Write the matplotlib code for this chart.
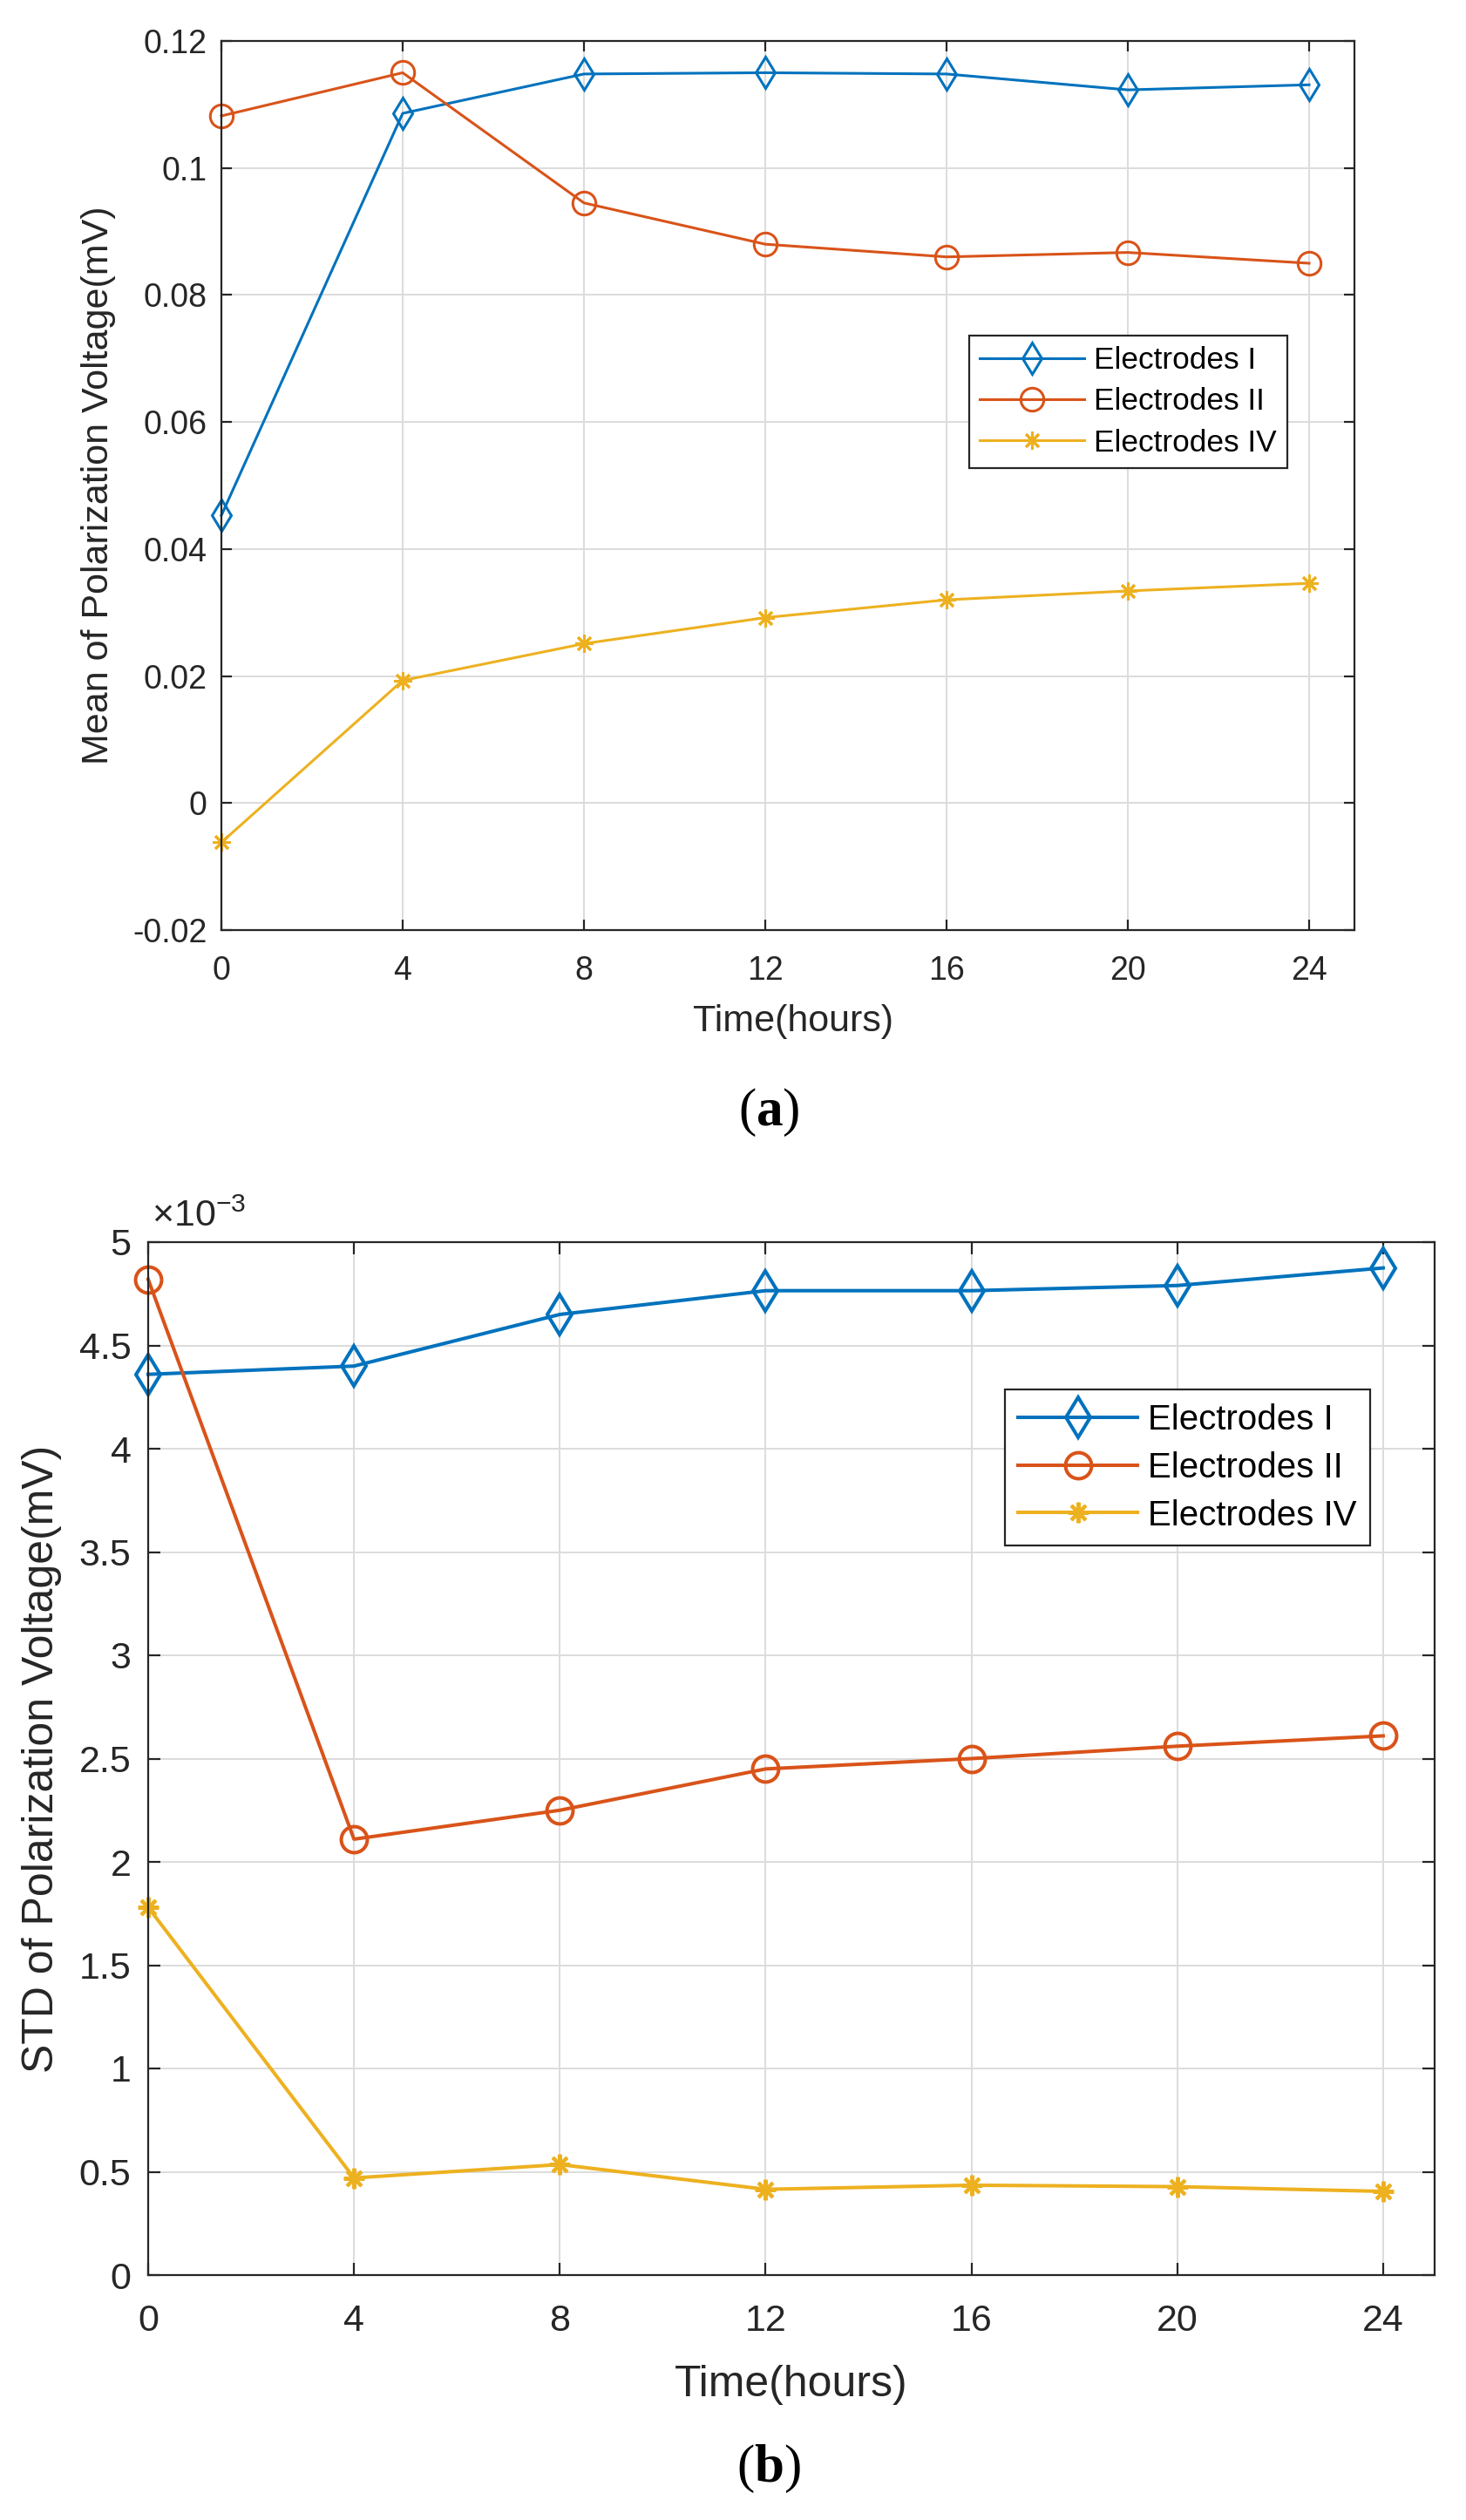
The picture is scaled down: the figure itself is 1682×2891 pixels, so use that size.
import numpy as np
import matplotlib
matplotlib.use('Agg')
import matplotlib.pyplot as plt

plt.rcParams['font.family'] = ['Liberation Sans', 'DejaVu Sans']
plt.rcParams['mathtext.fontset'] = 'custom'
plt.rcParams['mathtext.rm'] = 'Liberation Sans'
plt.rcParams['mathtext.it'] = 'Liberation Sans'
plt.rcParams['mathtext.bf'] = 'Liberation Serif:bold'

# time points (hours)
hours = [0, 4, 8, 12, 16, 20, 24]
labels = ['Electrodes I', 'Electrodes II', 'Electrodes IV']

# (a) mean of polarization voltage, mV
mean_I = [0.0453, 0.1086, 0.1148, 0.1150, 0.1148, 0.1123, 0.1131]
mean_II = [0.1082, 0.1150, 0.0945, 0.0880, 0.0860, 0.0867, 0.0850]
mean_IV = [-0.0062, 0.0193, 0.0251, 0.0292, 0.0320, 0.0334, 0.0346]

# (b) STD of polarization voltage, mV
std_I = [4.36e-3, 4.40e-3, 4.65e-3, 4.765e-3, 4.765e-3, 4.79e-3, 4.875e-3]
std_II = [4.82e-3, 2.11e-3, 2.25e-3, 2.45e-3, 2.50e-3, 2.56e-3, 2.61e-3]
std_IV = [1.78e-3, 0.47e-3, 0.535e-3, 0.415e-3, 0.435e-3, 0.428e-3, 0.405e-3]

colors = ['#0072BD', '#D95319', '#EDB120']
star = (8, 2, 0)

W, H = 1682, 2891
fig = plt.figure(figsize=(W / 100, H / 100), dpi=100)

def px_axes(l, t, r, b):
    return fig.add_axes([l / W, 1 - b / H, (r - l) / W, (b - t) / H])

def style(ax, tick_fs, tlen, tpad):
    ax.grid(True, color='#dcdcdc', linewidth=1.4)
    ax.set_axisbelow(True)
    for s in ax.spines.values():
        s.set_color('#262626')
        s.set_linewidth(1.6)
    ax.tick_params(direction='in', top=True, right=True, length=tlen, width=1.6,
                   color='#262626', labelsize=tick_fs, labelcolor='#262626')
    ax.tick_params(axis='x', pad=tpad[0])
    ax.tick_params(axis='y', pad=tpad[1])

# ---------- (a)
ax1 = px_axes(254, 47, 1554, 1067)
ax1.plot(hours, mean_I, color=colors[0], lw=2.2, marker='d', ms=18, mfc='none', mew=2.2,
         label=labels[0], clip_on=False)
ax1.plot(hours, mean_II, color=colors[1], lw=2.2, marker='o', ms=19, mfc='none', mew=2.2,
         label=labels[1], clip_on=False)
ax1.plot(hours, mean_IV, color=colors[2], lw=2.2, marker=star, ms=15, mew=2.2,
         label=labels[2], clip_on=False)
ax1.set_xlim(0, 25)
ax1.set_ylim(-0.02, 0.12)
ax1.set_xticks(hours)
ax1.set_yticks([-0.02, 0, 0.02, 0.04, 0.06, 0.08, 0.1, 0.12])
ax1.set_yticklabels(['-0.02', '0', '0.02', '0.04', '0.06', '0.08', '0.1', '0.12'])
style(ax1, 27, 8.5, (21, 12))
ax1.set_xlabel('Time(hours)', fontsize=31, color='#262626')
ax1.set_ylabel('Mean of Polarization Voltage(mV)', fontsize=31, color='#262626')
ax1.xaxis.set_label_coords(0.505, -0.103)
ax1.xaxis.label.set_va('center')
ax1.yaxis.set_label_coords(-0.1085, 0.5)
ax1.yaxis.label.set_va('center')
leg1 = ax1.legend(loc='upper left', bbox_to_anchor=(0.660, 0.6686), borderaxespad=0,
                  fontsize=25.4, handlelength=3.4, handletextpad=0.3, labelspacing=0.4,
                  borderpad=0.35, fancybox=False, framealpha=1, edgecolor='#262626')
leg1.get_frame().set_linewidth(1.6)

# ---------- (b)
ax2 = px_axes(170, 1425, 1646, 2610)
ax2.plot(hours, np.array(std_I) * 1e3, color=colors[0], lw=2.9, marker='d', ms=23, mfc='none',
         mew=2.9, label=labels[0], clip_on=False)
ax2.plot(hours, np.array(std_II) * 1e3, color=colors[1], lw=2.9, marker='o', ms=21.5, mfc='none',
         mew=2.9, label=labels[1], clip_on=False)
ax2.plot(hours, np.array(std_IV) * 1e3, color=colors[2], lw=2.9, marker=star, ms=17, mew=2.9,
         label=labels[2], clip_on=False)
ax2.set_xlim(0, 25)
ax2.set_ylim(0, 5)
ax2.set_xticks(hours)
ax2.set_yticks([0, 0.5, 1, 1.5, 2, 2.5, 3, 3.5, 4, 4.5, 5])
ax2.set_yticklabels(['0', '0.5', '1', '1.5', '2', '2.5', '3', '3.5', '4', '4.5', '5'])
style(ax2, 31, 10, (24, 14))
ax2.set_xlabel('Time(hours)', fontsize=36, color='#262626')
ax2.set_ylabel('STD of Polarization Voltage(mV)', fontsize=36, color='#262626')
ax2.xaxis.set_label_coords(0.5, -0.106)
ax2.xaxis.label.set_va('center')
ax2.yaxis.set_label_coords(-0.0827, 0.5)
ax2.yaxis.label.set_va('center')
ax2.text(0.003, 1.008, r'$\times10^{-3}$', transform=ax2.transAxes, fontsize=31,
         color='#262626', ha='left', va='bottom')
leg2 = ax2.legend(loc='upper left', bbox_to_anchor=(0.666, 0.857), borderaxespad=0,
                  fontsize=29, handlelength=3.4, handletextpad=0.3, labelspacing=0.42,
                  borderpad=0.38, fancybox=False, framealpha=1, edgecolor='#262626')
leg2.get_frame().set_linewidth(1.6)

# panel captions
fig.text(882 / W, 1 - 1276 / H, r'($\mathbf{a}$)', fontsize=44, family='Liberation Serif',
         ha='center', va='center')
fig.text(882 / W, 1 - 2832 / H, r'($\mathbf{b}$)', fontsize=44, family='Liberation Serif',
         ha='center', va='center')

fig.savefig('out.png', dpi=100)
